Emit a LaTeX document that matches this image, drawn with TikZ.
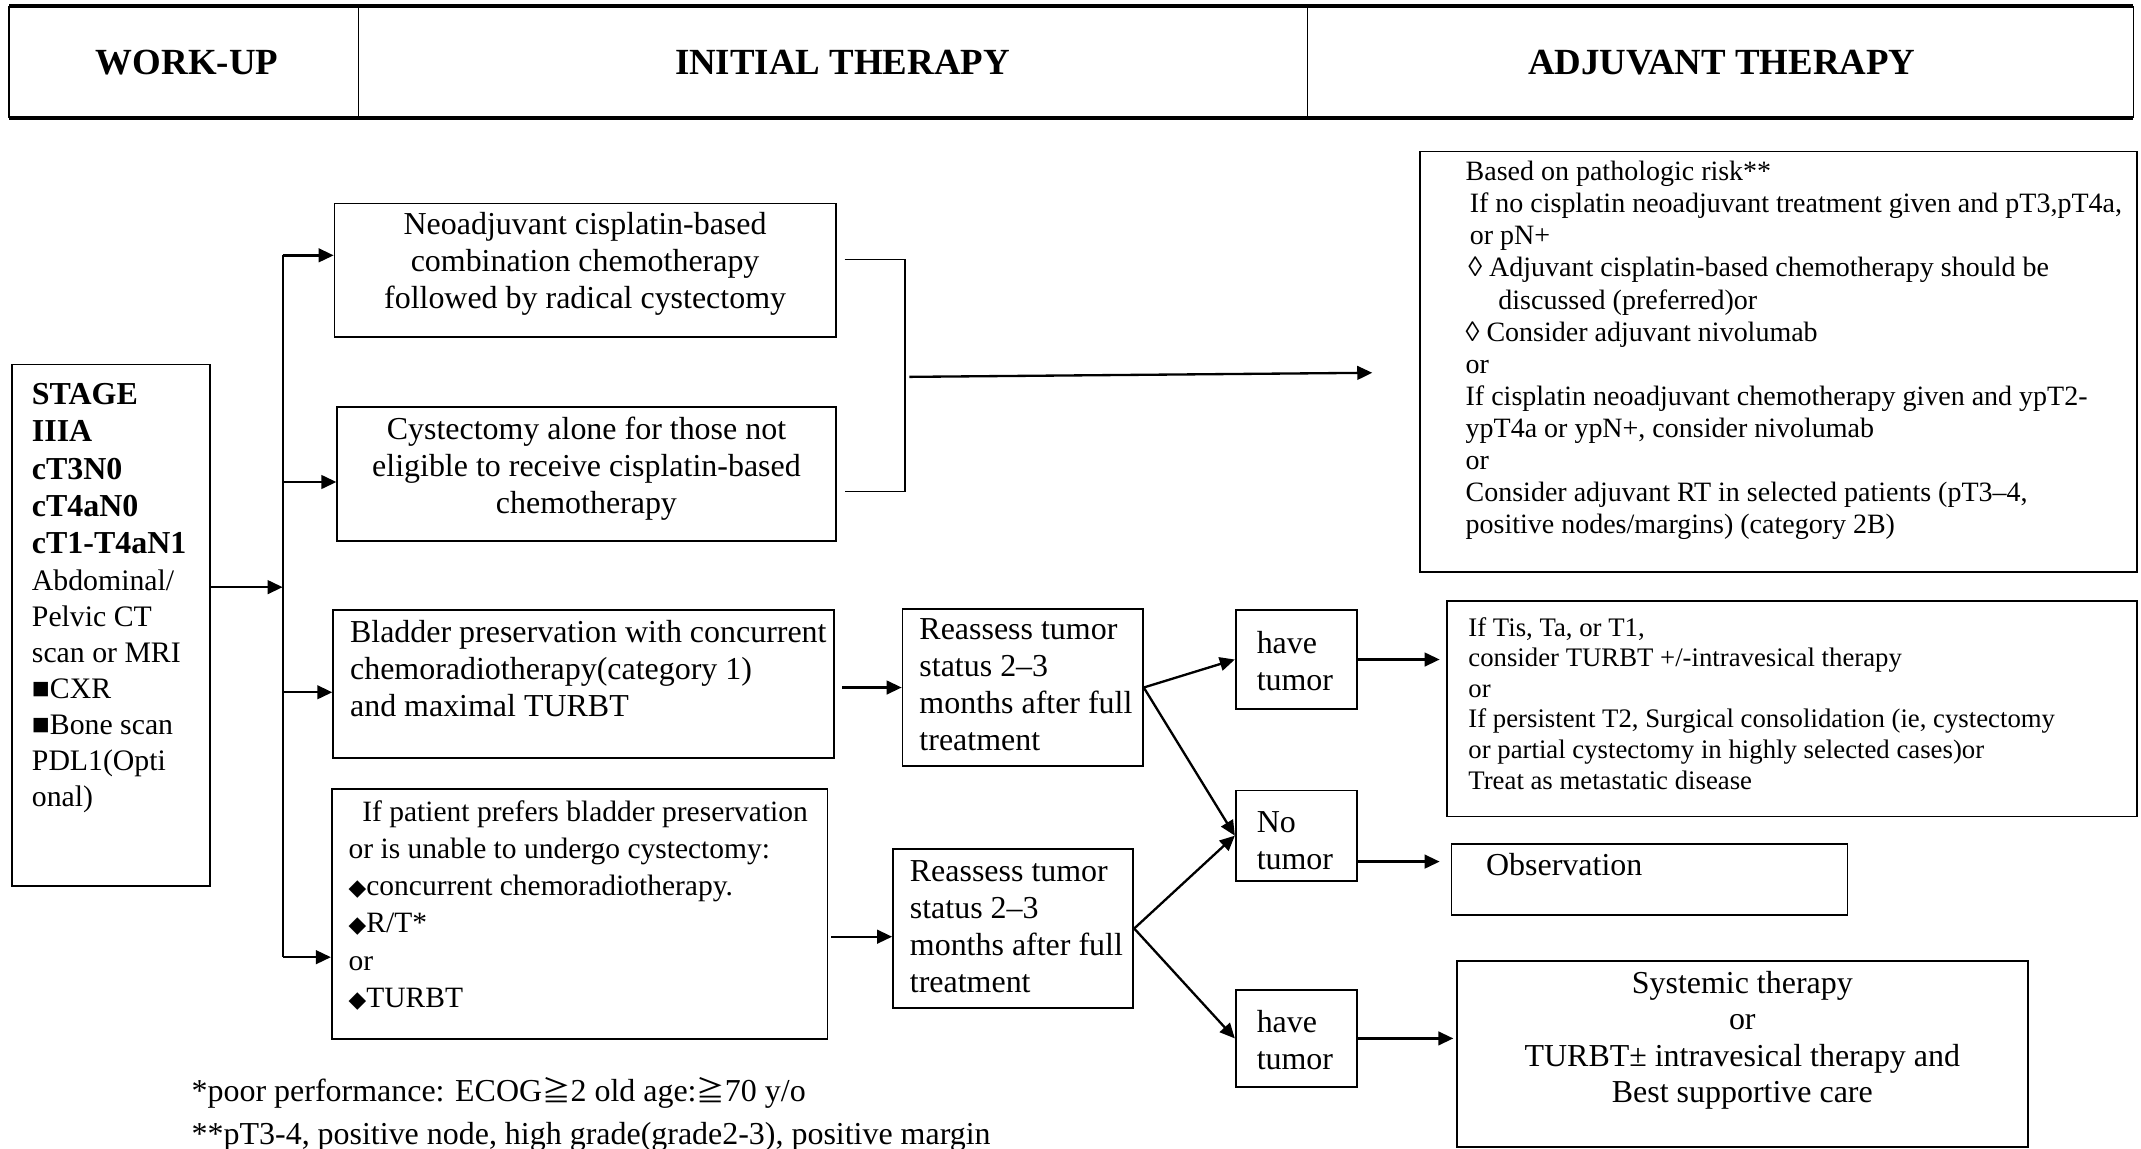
\documentclass[tikz,border=0pt]{standalone}
\usepackage{fontspec}
\setmainfont{Liberation Serif}
\newfontfamily\symfont{DejaVu Sans}
\newfontfamily\cjk{Noto Sans CJK SC}
\usetikzlibrary{arrows.meta,fit,calc}

\newcommand\blackdia{{\symfont\fontsize{8.4}{13.6}\selectfont ◆}}
\newcommand\geqq{{\cjk\fontsize{10.4}{13.6}\selectfont ≧}}

\tikzset{
  box/.style={draw, line width=0.65pt, inner sep=0pt},
  body/.style={font=\fontsize{11.7}{13.6}\selectfont, inner sep=0pt},
  small/.style={font=\fontsize{10.25}{11.75}\selectfont, inner sep=0pt},
  txt/.style={anchor=north west, align=left},
  arr/.style={-{Triangle[length=5.5pt,width=5pt]}, line width=0.85pt},
  thin line/.style={line width=0.65pt},
  head/.style={inner sep=0pt, font=\bfseries\fontsize{13.5}{16}\selectfont}
}

\begin{document}
\begin{tikzpicture}[x=0.5pt,y=-0.5pt]
\useasboundingbox (0,0) rectangle (1568,841);

% ---------- header row ----------
\node[inner sep=0pt, fit={(7,5) (263,86)}] (hwork) {};
\node[inner sep=0pt, fit={(263,5) (958,86)}] (hinit) {};
\node[inner sep=0pt, fit={(958,5) (1562,86)}] (hadj) {};
\node[head] (hworktxt) at (137,46) {WORK-UP};
\node[head] (hinittxt) at (617,46) {INITIAL THERAPY};
\node[head] (hadjtxt) at (1261,46) {ADJUVANT THERAPY};
\draw[line width=1.4pt] (hwork.north west) -- (hadj.north east);
\draw[line width=1.4pt] (hwork.south west) -- (hadj.south east);
\draw[line width=0.5pt] (hwork.north west) -- (hwork.south west)
  (hinit.north west) -- (hinit.south west)
  (hadj.north west) -- (hadj.south west)
  (hadj.north east) -- (hadj.south east);

% ---------- work-up ----------
\node[box, fit={(9,267) (154,649)}] (stage) {};
\node[body, txt] (stagetxt) at (23,280.6)
  {\textbf{STAGE}\\ \textbf{IIIA}\\ \textbf{cT3N0}\\ \textbf{cT4aN0}\\ \textbf{cT1-T4aN1}\\
   \fontsize{10.9}{13.1}\selectfont Abdominal/\\[-0.4pt] \fontsize{10.9}{13.1}\selectfont Pelvic CT\\[-0.4pt]
   \fontsize{10.9}{13.1}\selectfont scan or MRI\\[-0.4pt] \fontsize{10.9}{13.1}\selectfont ■CXR\\[-0.4pt]
   \fontsize{10.9}{13.1}\selectfont ■Bone scan\\[-0.4pt] \fontsize{10.9}{13.1}\selectfont PDL1(Opti\\[-0.4pt]
   \fontsize{10.9}{13.1}\selectfont onal)};

% ---------- initial therapy ----------
\node[box, fit={(245,149) (612,247)}] (neo) {};
\node[body, align=center] (neotxt) at (428.5,193)
  {Neoadjuvant cisplatin-based\\ combination chemotherapy\\ followed by radical cystectomy};

\node[box, fit={(247,298) (612,396)}] (cys) {};
\node[body, align=center] (cystxt) at (429.5,343)
  {Cystectomy alone for those not\\ eligible to receive cisplatin-based\\ chemotherapy};

\node[box, fit={(244,447) (611,555)}] (bp) {};
\node[body, txt] (bptxt) at (256,453.6)
  {Bladder preservation with concurrent\\ chemoradiotherapy(category 1)\\ and maximal TURBT};

\node[box, fit={(243,578) (606,761)}] (pref) {};
\node[body, txt, font=\fontsize{10.8}{13.6}\selectfont] (preftxt) at (255,586)
  {\hspace*{5pt}If patient prefers bladder preservation\\ or is unable to undergo cystectomy:\\
   \blackdia concurrent chemoradiotherapy.\\ \blackdia R/T*\\ or\\ \blackdia TURBT};

\node[box, fit={(661,446) (837,561)}] (reas1) {};
\node[body, txt] (reas1txt) at (673,452.6)
  {Reassess tumor\\ status 2–3\\ months after full\\ treatment};

\node[box, fit={(654,622) (830,738)}] (reas2) {};
\node[body, txt] (reas2txt) at (666,629.6)
  {Reassess tumor\\ status 2–3\\ months after full\\ treatment};

\node[box, fit={(905,447) (994,519)}] (have1) {};
\node[body, txt] (have1txt) at (920,461.6) {have\\ tumor};
\node[box, fit={(905,579) (994,645)}] (notum) {};
\node[body, txt] (notumtxt) at (920,593.6) {No\\ tumor};
\node[box, fit={(905,725) (994,796)}] (have2) {};
\node[body, txt] (have2txt) at (920,739.6) {have\\ tumor};

% ---------- adjuvant therapy ----------
\node[box, fit={(1040,111) (1565,419)}] (adj) {};
\node[small, txt] (adjtxt) at (1073,117.7)
  {Based on pathologic risk**\\
   \hspace*{1.5pt}If no cisplatin neoadjuvant treatment given and pT3,pT4a,\\
   \hspace*{1.5pt}or pN+\\
   \hspace*{1pt}◊ Adjuvant cisplatin-based chemotherapy should be\\
   \hspace*{12pt}discussed (preferred)or\\
   ◊ Consider adjuvant nivolumab\\
   or\\
   If cisplatin neoadjuvant chemotherapy given and ypT2-\\
   ypT4a or ypN+, consider nivolumab\\
   or\\
   Consider adjuvant RT in selected patients (pT3–4,\\
   positive nodes/margins) (category 2B)};

\node[box, fit={(1060,440) (1565,598)}] (tumopt) {};
\node[small, txt, font=\fontsize{9.8}{11.2}\selectfont] (tumopttxt) at (1075,451.7)
  {If Tis, Ta, or T1,\\ consider TURBT +/-intravesical therapy\\ or\\
   If persistent T2, Surgical consolidation (ie, cystectomy\\
   or partial cystectomy in highly selected cases)or\\
   Treat as metastatic disease};

\node[box, fit={(1063,618) (1353,670)}] (obs) {};
\node[body, txt] (obstxt) at (1088,624.6) {Observation};

\node[box, fit={(1067,704) (1485,840)}] (sys) {};
\node[body, align=center, font=\fontsize{11.7}{13.35}\selectfont] (systxt) at (1276,762)
  {Systemic therapy\\ or\\ TURBT± intravesical therapy and\\ Best supportive care};

% ---------- footnotes ----------
\node[body, txt] (foot1) at (140,789) {*poor performance: ECOG\geqq2 old age:\geqq70 y/o};
\node[body, txt] (foot2) at (140,821.6) {**pT3-4, positive node, high grade(grade2-3), positive margin};

% ---------- connectors ----------
\coordinate (tTop) at (207,187);
\coordinate (tMid) at (207,430);
\coordinate (tBot) at (207,701);
\draw[arr] (stage.east |- tMid) -- (tMid);
\draw[thin line] (tTop) -- (tBot);
\draw[arr] (tTop) -- (neo.west |- tTop);
\draw[arr] (207,353) -- (cys.west |- 0,353);
\draw[arr] (207,507) -- (bp.west |- 0,507);
\draw[arr] (tBot) -- (pref.west |- tBot);

% bracket joining the two surgical options
\coordinate (jTop) at (663,190);
\coordinate (jBot) at (663,360);
\coordinate (jMid) at (663,276);
\coordinate (adjIn) at (1005,273);
\draw[thin line] ([xshift=3pt]neo.east |- jTop) -- (jTop) -- (jBot) -- ([xshift=3pt]cys.east |- jBot);
\draw[arr] ([xshift=1.5pt]jMid) -- (adjIn);

\draw[arr] ([xshift=2.5pt]bp.east |- reas1.west) -- (reas1.west);
\draw[arr] ([xshift=1pt,yshift=-3pt]pref.east |- reas2.west) -- ([yshift=-3pt]reas2.west);

\draw[arr] (reas1.east) -- (have1.west);
\draw[arr] (reas1.east) -- (notum.west);
\draw[arr] (reas2.east) -- (notum.west);
\draw[arr] (reas2.east) -- (have2.west);

\draw[arr] (have1.east) -- ([xshift=-2.5pt]tumopt.west |- have1.east);
\draw[arr] ([yshift=-9.5pt]notum.east) -- ([xshift=-4pt,yshift=-9.5pt]obs.west |- notum.east);
\draw[arr] (have2.east) -- ([xshift=-1pt]sys.west |- have2.east);
\end{tikzpicture}
\end{document}
